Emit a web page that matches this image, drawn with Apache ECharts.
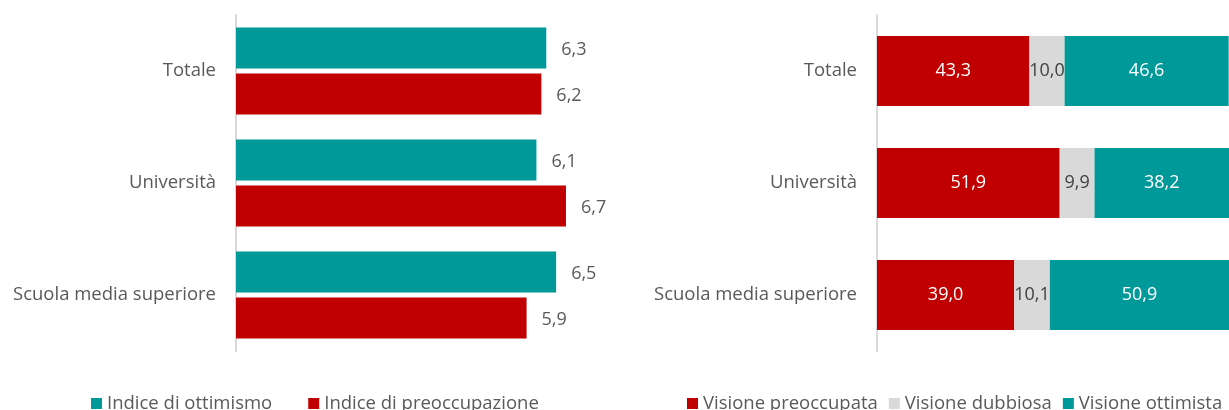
<!DOCTYPE html>
<html>
<head>
<meta charset="utf-8">
<script src="https://cdn.jsdelivr.net/npm/echarts@6/dist/echarts.min.js"></script>
<style>
  html, body { margin: 0; padding: 0; background: #fff; }
  #chart { width: 1229px; height: 410px; }
</style>
</head>
<body>
<div id="chart"></div>
<script>
// Categories (top to bottom)
const categories = ['Totale', 'Università', 'Scuola media superiore'];

// Left panel: indices (scale 0-10)
const indiceOttimismo = [6.3, 6.1, 6.5];
const indicePreoccupazione = [6.2, 6.7, 5.9];

// Right panel: distribution of views (%)
const visionePreoccupata = [43.3, 51.9, 39.0];
const visioneDubbiosa = [10.0, 9.9, 10.1];
const visioneOttimista = [46.6, 38.2, 50.9];

const TEAL = '#009999';
const RED = '#c00000';
const GREY = '#d9d9d9';
const TEXT = '#595959';
const FONT = '"Open Sans", "Liberation Sans", sans-serif';
const BIG = 18.5;   // category and legend text
const NUM = 18;     // value labels

const fmt = v => v.toFixed(1).replace('.', ',');

const chart = echarts.init(document.getElementById('chart'));

const catAxis = gridIndex => ({
  type: 'category',
  gridIndex,
  data: categories,
  inverse: true,
  axisLine: { show: true, lineStyle: { color: GREY, width: 2 } },
  axisTick: { show: false },
  axisLabel: { color: TEXT, fontFamily: FONT, fontSize: BIG, margin: 20 }
});

const valAxis = (gridIndex, max) => ({
  type: 'value',
  gridIndex,
  min: 0,
  max,
  show: false,
  splitLine: { show: false }
});

const legendText = { color: TEXT, fontSize: BIG, fontFamily: FONT };

const outsideLabel = {
  show: true, position: 'right', distance: 15, offset: [0, 2],
  color: TEXT, fontSize: NUM, formatter: p => fmt(p.value)
};

const insideLabel = color => ({
  show: true, position: 'inside', color, fontSize: NUM, formatter: p => fmt(p.value)
});

chart.setOption({
  animation: false,
  textStyle: { fontFamily: FONT },
  grid: [
    { left: 236, top: 15, height: 336, width: 394 },
    { left: 877, top: 15, height: 336, right: -4 }
  ],
  xAxis: [valAxis(0, 8), valAxis(1, 100)],
  yAxis: [catAxis(0), catAxis(1)],
  legend: [
    {
      left: 86, top: 389,
      itemWidth: 11, itemHeight: 11, itemGap: 36, icon: 'rect',
      textStyle: legendText,
      data: ['Indice di ottimismo', 'Indice di preoccupazione']
    },
    {
      left: 682, top: 389,
      itemWidth: 11, itemHeight: 11, itemGap: 11, icon: 'rect',
      textStyle: legendText,
      data: ['Visione preoccupata', 'Visione dubbiosa', 'Visione ottimista']
    }
  ],
  series: [
    {
      name: 'Indice di ottimismo', type: 'bar', xAxisIndex: 0, yAxisIndex: 0,
      data: indiceOttimismo, barWidth: 41, barGap: '12%',
      itemStyle: { color: TEAL },
      label: outsideLabel
    },
    {
      name: 'Indice di preoccupazione', type: 'bar', xAxisIndex: 0, yAxisIndex: 0,
      data: indicePreoccupazione, barWidth: 41, barGap: '12%',
      itemStyle: { color: RED },
      label: outsideLabel
    },
    {
      name: 'Visione preoccupata', type: 'bar', stack: 'v', xAxisIndex: 1, yAxisIndex: 1,
      data: visionePreoccupata, barWidth: 70,
      itemStyle: { color: RED },
      label: insideLabel('#fff')
    },
    {
      name: 'Visione dubbiosa', type: 'bar', stack: 'v', xAxisIndex: 1, yAxisIndex: 1,
      data: visioneDubbiosa, barWidth: 70,
      itemStyle: { color: GREY },
      label: insideLabel('#404040')
    },
    {
      name: 'Visione ottimista', type: 'bar', stack: 'v', xAxisIndex: 1, yAxisIndex: 1,
      data: visioneOttimista, barWidth: 70,
      itemStyle: { color: TEAL },
      label: insideLabel('#fff')
    }
  ]
});
</script>
</body>
</html>
